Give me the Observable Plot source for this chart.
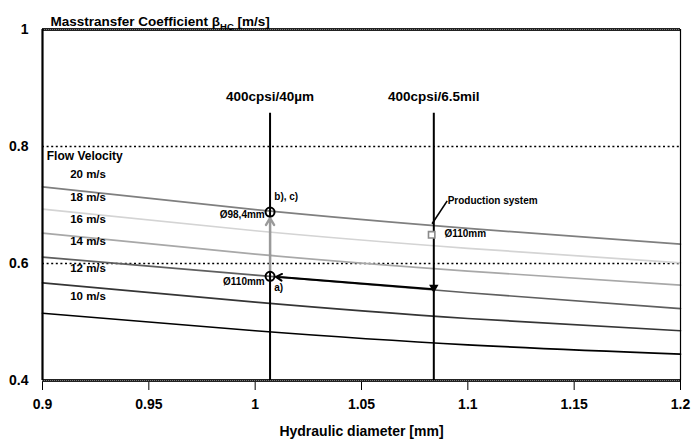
<!DOCTYPE html>
<html><head><meta charset="utf-8">
<script src="https://cdn.jsdelivr.net/npm/d3@7"></script>
<script src="https://cdn.jsdelivr.net/npm/@observablehq/plot@0.6"></script>
<style>body{margin:0;background:#fff}</style>
</head><body><div id="chart"></div>
<script>
// ---- data ----
const diam = [0.9, 1.0, 1.1, 1.2];
const v20 = [0.731, 0.692, 0.660, 0.633];
const v18 = [0.693, 0.656, 0.626, 0.601];
const v16 = [0.652, 0.616, 0.587, 0.563];
const v14 = [0.611, 0.580, 0.550, 0.523];
const v12 = [0.567, 0.534, 0.506, 0.485];
const v10 = [0.515, 0.485, 0.461, 0.445];
const seriesNames = ["20 m/s", "18 m/s", "16 m/s", "14 m/s", "12 m/s", "10 m/s"];
const seriesValues = [v20, v18, v16, v14, v12, v10];
const seriesColors = ["#7f7f7f", "#d4d4d4", "#a8a8a8", "#5f5f5f", "#353535", "#000000"];
const labelX = 0.913;
const labelY = [0.753, 0.713, 0.676, 0.638, 0.592, 0.544];
const legendTitle = "Flow Velocity";
const legendTitleX = 0.902, legendTitleY = 0.784;

const xTicks = [0.9, 0.95, 1, 1.05, 1.1, 1.15, 1.2];
const yTicks = [0.4, 0.6, 0.8, 1];
const dottedGrid = [0.6, 0.8];
const frameEdges = [0.4, 1];

const cellX = [1.007, 1.084];
const cellNames = ["400cpsi/40µm", "400cpsi/6.5mil"];
const cellTop = 0.857, cellLabelY = 0.885;

const circleX = [1.007, 1.007];
const circleY = [0.688, 0.578];
const grayArrow = {x1: 1.007, y1: 0.578, x2: 1.007, y2: 0.688};
const blackArrow = {x1: 1.084, y1: 0.556, x2: 1.007, y2: 0.578};
const tipMark = {x: 1.084, y: 0.559};
const prodPoint = {x: 1.083, y: 0.649};
const leader = {x1: 1.0832, y1: 0.668, x2: 1.0903, y2: 0.707};

const annStartText = ["b), c)", "a)", "Ø110mm", "Production system"];
const annStartX = [1.009, 1.009, 1.089, 1.0905];
const annStartY = [0.714, 0.558, 0.650, 0.707];
const annEndText = ["Ø98,4mm", "Ø110mm"];
const annEndX = [1.0045, 1.0045];
const annEndY = [0.6825, 0.568];

const titleMain = "Masstransfer Coefficient β";
const titleSub = "HC";
const titleUnit = " [m/s]";
const xTitle = "Hydraulic diameter [mm]";

// ---- chart ----
const fmt = d3.format("~g");
const lineMarks = seriesValues.map((vals, k) =>
  Plot.line(diam.map((d, i) => ({d, b: vals[i]})), {x: "d", y: "b", stroke: seriesColors[k], strokeWidth: 1.7, curve: "natural"})
);

const chart = Plot.plot({
  width: 693, height: 446,
  marginLeft: 42, marginRight: 13, marginTop: 29, marginBottom: 66,
  x: {domain: [0.9, 1.2], ticks: xTicks, tickFormat: fmt, tickSize: 10, tickPadding: 9, label: null},
  y: {domain: [0.4, 1], ticks: yTicks, tickFormat: fmt, tickSize: 0, tickPadding: 14, label: null},
  style: {fontFamily: "'Liberation Sans', Arial, sans-serif", fontWeight: "bold", fontSize: "14px", background: "white", color: "black", overflow: "visible"},
  marks: [
    Plot.ruleY(dottedGrid, {stroke: "black", strokeWidth: 1.6, strokeDasharray: "2,2.6"}),
    Plot.ruleY(frameEdges, {y: d => d, stroke: "#222", strokeWidth: 3}),
    Plot.ruleY(frameEdges, {y: d => d, stroke: "#777", strokeWidth: 1, strokeDasharray: "1,1"}),
    ...lineMarks,
    Plot.ruleX(cellX, {y1: 0.4, y2: cellTop, stroke: "black", strokeWidth: 2}),
    Plot.text(cellX.map((x, i) => ({x, t: cellNames[i]})), {x: "x", y: cellLabelY, text: "t", fontSize: 13.5, fill: "black"}),
    Plot.arrow([grayArrow], {x1: "x1", y1: "y1", x2: "x2", y2: "y2", stroke: "#9a9a9a", strokeWidth: 2.4, headLength: 5, insetStart: 5, insetEnd: 6}),
    Plot.arrow([blackArrow], {x1: "x1", y1: "y1", x2: "x2", y2: "y2", stroke: "black", strokeWidth: 2, headLength: 5, insetEnd: 6}),
    Plot.dot([tipMark], {x: "x", y: "y", symbol: "triangle", rotate: 180, r: 3.5, fill: "black"}),
    Plot.dot(circleX.map((x, i) => ({x, y: circleY[i]})), {x: "x", y: "y", r: 4.5, stroke: "black", strokeWidth: 2, fill: "none"}),
    Plot.dot([prodPoint], {x: "x", y: "y", symbol: "square", r: 3.6, stroke: "#8a8a8a", strokeWidth: 1.6, fill: "white"}),
    Plot.link([leader], {x1: "x1", y1: "y1", x2: "x2", y2: "y2", stroke: "black", strokeWidth: 1.6}),
    Plot.text(annStartText.map((t, i) => ({t, x: annStartX[i], y: annStartY[i]})), {x: "x", y: "y", text: "t", textAnchor: "start", fontSize: 10, fill: "black"}),
    Plot.text(annEndText.map((t, i) => ({t, x: annEndX[i], y: annEndY[i]})), {x: "x", y: "y", text: "t", textAnchor: "end", fontSize: 10, fill: "black"}),
    Plot.text([legendTitle], {x: legendTitleX, y: legendTitleY, text: d => d, textAnchor: "start", fontSize: 12, fill: "black"}),
    Plot.text(seriesNames.map((t, i) => ({t, y: labelY[i]})), {x: labelX, y: "y", text: "t", textAnchor: "start", fontSize: 11.5, fill: "black"}),
    Plot.ruleX([0.9], {stroke: "black", strokeWidth: 2.2}),
    Plot.ruleX([1.2], {stroke: "black", strokeWidth: 1.2}),
    Plot.text([titleMain], {frameAnchor: "top-left", dx: 8, dy: -13, text: d => d, textAnchor: "start", fontSize: 13.5, fill: "black"}),
    Plot.text([xTitle], {frameAnchor: "bottom", dy: 55, text: d => d, fontSize: 14, fill: "black"})
  ]
});
document.getElementById("chart").appendChild(chart);

// subscript for the title
d3.select(chart).selectAll("text").filter(function() { return this.textContent === titleMain; })
  .each(function() {
    const t = d3.select(this);
    t.append("tspan").attr("dy", 4).attr("font-size", 9.5).text(titleSub);
    t.append("tspan").attr("dy", -4).text(titleUnit);
  });
</script>
</body></html>
